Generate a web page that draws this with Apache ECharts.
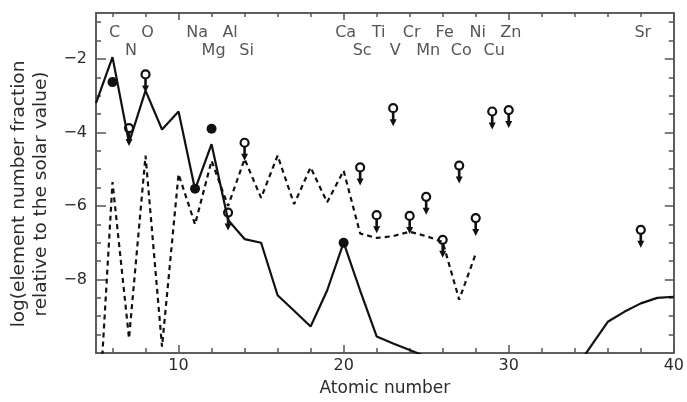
<!DOCTYPE html>
<html>
<head>
<meta charset="utf-8">
<script src="https://cdn.jsdelivr.net/npm/echarts@6/dist/echarts.min.js"></script>
<style>
    html, body {margin: 0; padding: 0; background: #fff;}
    #chart {width: 687px; height: 402px;}
</style>
</head>
<body>
<div id="chart"></div>
<script>
// model curves, one value per atomic number
var solidZ = [5, 6, 7, 8, 9, 10, 11, 12, 13, 14, 15, 16, 17, 18, 19, 20, 21, 22, 23, 24, 25, 26, 27, 28, 29, 30, 31, 32, 33, 34, 35, 36, 37, 38, 39, 40];
var solidLog = [-3.2, -1.95, -4.28, -2.86, -3.92, -3.43, -5.55, -4.32, -6.38, -6.9, -7.0, -8.43, -8.85, -9.28, -8.3, -7.0, -8.3, -9.55, -9.74, -9.92, -10.1, -10.4, -10.6, -10.8, -10.9, -11.0, -11.1, -11.0, -10.8, -10.45, -9.8, -9.15, -8.88, -8.65, -8.5, -8.47];

var dashZ = [5, 6, 7, 8, 9, 10, 11, 12, 13, 14, 15, 16, 17, 18, 19, 20, 21, 22, 23, 24, 25, 26, 27, 28];
var dashLog = [-13, -5.35, -9.6, -4.63, -9.83, -5.13, -6.5, -4.77, -6.0, -4.72, -5.78, -4.63, -5.95, -4.95, -5.9, -5.04, -6.75, -6.87, -6.82, -6.7, -6.82, -6.98, -8.55, -7.3];

// measured abundances
var detZ = [6, 11, 12, 20];
var detLog = [-2.63, -5.53, -3.9, -7.0];

// upper limits
var limZ = [7, 8, 13, 14, 21, 22, 23, 24, 25, 26, 27, 28, 29, 30, 38];
var limLog = [-3.88, -2.42, -6.18, -4.28, -4.95, -6.25, -3.34, -6.27, -5.75, -6.92, -4.9, -6.33, -3.43, -3.39, -6.65];

// element names along the top
var elemZ = [6, 7, 8, 11, 12, 13, 14, 20, 21, 22, 23, 24, 25, 26, 27, 28, 29, 30, 38];
var elemSym = ['C', 'N', 'O', 'Na', 'Mg', 'Al', 'Si', 'Ca', 'Sc', 'Ti', 'V', 'Cr', 'Mn', 'Fe', 'Co', 'Ni', 'Cu', 'Zn', 'Sr'];
var elemRow = [0, 1, 0, 0, 1, 0, 1, 0, 1, 0, 1, 0, 1, 0, 1, 0, 1, 0, 0];

var xMajorTicks = [10, 20, 30, 40];
var yMajorTicks = [-8, -6, -4, -2];

var xMinorTicks = [];
for (let v = 6; v < 40; v += 2) {
    if (xMajorTicks.indexOf(v) < 0) xMinorTicks.push(v);
}
var yMinorTicks = [];
for (let v = -9.5; v <= -1; v += 0.5) {
    if (yMajorTicks.indexOf(v) < 0) yMinorTicks.push(v);
}

function pairs(xs, ys) {
    let out = [];
    for (let i = 0; i < xs.length; i++) {
        out.push([xs[i], ys[i]]);
    }
    return out;
}

var textColor = '#2b2b2b';
var frameColor = '#555';
var font = 'DejaVu Sans';

function xAxis(pos, ticks, len, labels) {
    return {
        type: 'value', min: 5, max: 40, position: pos,
        axisLine: {show: true, lineStyle: {color: frameColor, width: 1.5}},
        axisTick: {show: true, inside: true, length: len, customValues: ticks, lineStyle: {color: frameColor, width: 1.5}},
        axisLabel: labels ? {customValues: xMajorTicks, margin: 5, fontSize: 16, color: textColor, fontFamily: font} : {show: false},
        splitLine: {show: false}
    };
}

function yAxis(pos, ticks, len, labels) {
    return {
        type: 'value', min: -10, max: -0.75, position: pos,
        axisLine: {show: true, lineStyle: {color: frameColor, width: 1.5}},
        axisTick: {show: true, inside: true, length: len, customValues: ticks, lineStyle: {color: frameColor, width: 1.5}},
        axisLabel: labels ? {
            customValues: yMajorTicks, margin: 9, fontSize: 16, color: textColor, fontFamily: font,
            formatter: function (v) {
                return String(v).replace('-', '\u2212');
            }
        } : {show: false},
        splitLine: {show: false}
    };
}

var xAxes = [
    xAxis('bottom', xMajorTicks, 8, true),
    xAxis('bottom', xMinorTicks, 5, false),
    xAxis('top', xMajorTicks, 7, false),
    xAxis('top', xMinorTicks, 4, false)
];
xAxes[0].name = 'Atomic number';
xAxes[0].nameLocation = 'middle';
xAxes[0].nameGap = 27;
xAxes[0].nameTextStyle = {fontSize: 17, color: textColor, fontFamily: font};

var yAxes = [
    yAxis('left', yMajorTicks, 10, true),
    yAxis('left', yMinorTicks, 5, false),
    yAxis('right', yMajorTicks, 9, false),
    yAxis('right', yMinorTicks, 5, false)
];
yAxes[0].name = 'log(element number fraction\nrelative to the solar value)';
yAxes[0].nameLocation = 'middle';
yAxes[0].nameRotate = 90;
yAxes[0].nameGap = 44;
yAxes[0].nameTextStyle = {fontSize: 18.5, lineHeight: 22, color: textColor, fontFamily: font, padding: [0, 22, 0, 0]};

var elemData = [];
for (let i = 0; i < elemZ.length; i++) {
    elemData.push({value: [elemZ[i], -1.28 - 0.51 * elemRow[i]], name: elemSym[i]});
}

var arrowPath = 'path://M2.5,0 L5.5,0 L5.5,7 L8,7 L4,14 L0,7 L2.5,7 Z';

var chart = echarts.init(document.getElementById('chart'));
chart.setOption({
    animation: false,
    grid: {left: 95, right: 9, top: 13, bottom: 44, containLabel: false},
    xAxis: xAxes,
    yAxis: yAxes,
    series: [
        {
            name: 'model', type: 'line', data: pairs(solidZ, solidLog),
            symbol: 'none', clip: true,
            lineStyle: {color: '#111', width: 2.2}
        },
        {
            name: 'model2', type: 'line', data: pairs(dashZ, dashLog),
            symbol: 'none', clip: true,
            lineStyle: {color: '#111', width: 2.2, type: [5, 4]}
        },
        {
            name: 'limit arrows', type: 'scatter', data: pairs(limZ, limLog),
            symbol: arrowPath, symbolSize: [7, 14], symbolOffset: [0, 11],
            itemStyle: {color: '#111', opacity: 1}
        },
        {
            name: 'limits', type: 'scatter', data: pairs(limZ, limLog),
            symbol: 'circle', symbolSize: 8,
            itemStyle: {color: '#fff', borderColor: '#111', borderWidth: 2.2, opacity: 1}
        },
        {
            name: 'measured', type: 'scatter', data: pairs(detZ, detLog),
            symbol: 'circle', symbolSize: 10,
            itemStyle: {color: '#111', opacity: 1}
        },
        {
            name: 'elements', type: 'scatter', data: elemData,
            symbolSize: 0, silent: true,
            label: {
                show: true, position: 'inside', offset: [2, 0],
                formatter: '{b}', fontSize: 16, color: textColor, fontFamily: font
            }
        }
    ]
});
</script>
</body>
</html>
